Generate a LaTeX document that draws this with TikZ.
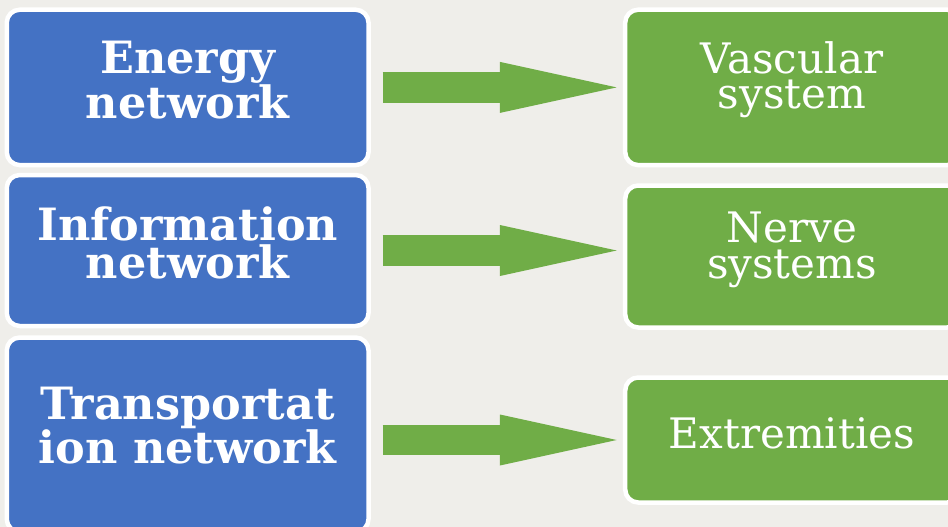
\documentclass[tikz,border=0pt]{standalone}
\usepackage{fontspec}
\setmainfont{DejaVu Serif}
\usetikzlibrary{arrows.meta}

\definecolor{netblue}{RGB}{68,114,196}
\definecolor{organgreen}{RGB}{112,173,71}
\definecolor{slidegray}{RGB}{239,238,234}

\tikzset{
  netbox/.style={rectangle,rounded corners=13pt,fill=netblue,draw=white,line width=4.5pt,inner sep=0pt,minimum width=361.8pt},
  organbox/.style={rectangle,rounded corners=13pt,fill=organgreen,draw=white,line width=4.5pt,inner sep=0pt,minimum width=335pt},
  nettext/.style={inner sep=0pt,text=white,align=center,font=\bfseries\fontsize{44.5}{37.5}\selectfont},
  organtext/.style={inner sep=0pt,text=white,align=center,font=\fontsize{42}{35.5}\selectfont},
  blockarrow/.style={draw=organgreen,line width=30.6pt,-{Triangle[length=116.7pt,width=51pt,line width=0pt]},shorten <=11.9pt,shorten >=6.3pt}
}

\begin{document}
\begin{tikzpicture}[x=1pt,y=-1pt]
\path[use as bounding box] (0,0) rectangle (948,527);
\clip (0,0) rectangle (948,527);
\path[fill=slidegray,draw=none] (0,0) rectangle (948,527);

\node[netbox,minimum height=155.4pt] (energy) at (187.65,87.4) {};
\node[netbox,minimum height=151pt] (info) at (187.65,250.5) {};
\node[netbox,minimum height=194.5pt] (transport) at (187.65,434.75) {};

\node[organbox,minimum height=155.4pt] (vascular) at (792.7,87.4) {};
\node[organbox,minimum height=142pt] (nerve) at (792.7,256.5) {};
\node[organbox,minimum height=125pt] (extremities) at (792.7,440) {};

\node[nettext] (energy-t) at (187.65,79.9) {Energy\\network};
\node[nettext] (info-t) at (187.65,242.8) {Information\\network};
\node[nettext,font=\bfseries\fontsize{44.5}{41}\selectfont] (transport-t) at (187.65,426) {Transportat\\ion network};

\node[organtext] (vascular-t) at (792,79.7) {Vascular\\system};
\node[organtext] (nerve-t) at (792,249.8) {Nerve\\systems};
\node[organtext] (extremities-t) at (792,433) {Extremities};

\draw[blockarrow] (energy.east) -- (energy.east -| vascular.west);
\draw[blockarrow] (info.east) -- (info.east -| nerve.west);
\draw[blockarrow] (extremities.west -| transport.east) -- (extremities.west);
\end{tikzpicture}
\end{document}
